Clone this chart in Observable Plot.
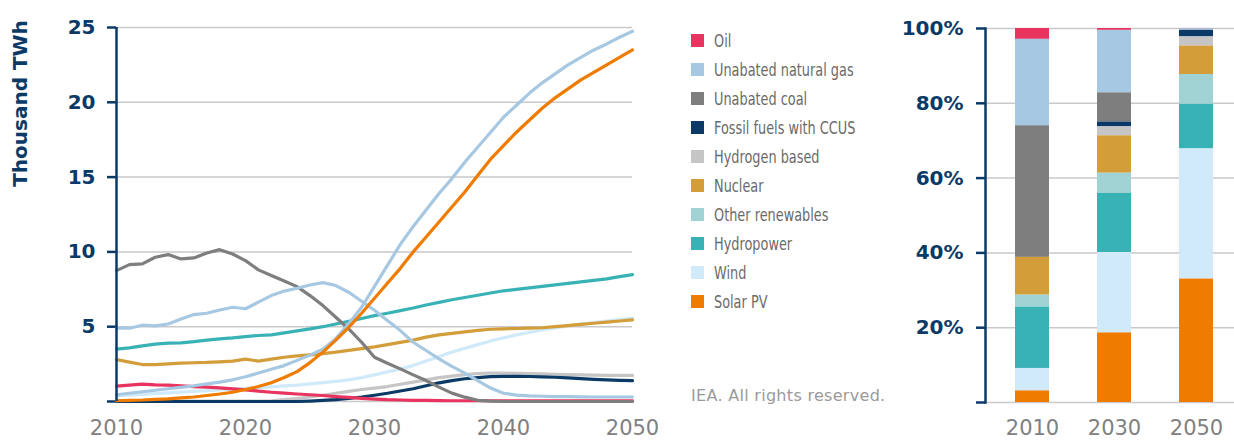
<!DOCTYPE html>
<html><head><meta charset="utf-8">
<script src="https://cdn.jsdelivr.net/npm/d3@7"></script>
<script src="https://cdn.jsdelivr.net/npm/@observablehq/plot@0.6"></script>
<style>
html,body{margin:0;padding:0;background:#fff;overflow:hidden}
#wrap{position:relative;width:1234px;height:442px}
#left{position:absolute;left:0;top:0}
#right{position:absolute;left:900px;top:0}
#legend{position:absolute;left:691px;top:25.5px;font-family:"DejaVu Sans",sans-serif;font-size:18px;color:#6a6a6a}
.item{display:flex;align-items:center;height:29.1px;white-space:nowrap}
.sw{width:13px;height:13px;margin-right:10px;flex:none}
.tx{display:inline-block;transform:scaleX(0.715);transform-origin:left center}
#credit{position:absolute;left:691px;top:387.5px;font-family:"DejaVu Sans",sans-serif;font-size:16px;line-height:16px;letter-spacing:0.3px;color:#9a9a9a;white-space:nowrap}
</style></head>
<body><div id="wrap"><div id="left"></div><div id="legend"></div><div id="credit">IEA. All rights reserved.</div><div id="right"></div></div>
<script>
// ---------- data ----------
const years = d3.range(2010, 2051);
const oil = [1.03,1.09,1.16,1.11,1.09,1.05,1.0,0.96,0.91,0.85,0.78,0.69,0.62,0.56,0.5,0.45,0.4,0.33,0.27,0.21,0.16,0.12,0.1,0.08,0.07,0.06,0.05,0.05,0.05,0.05,0.05,0.05,0.05,0.04,0.04,0.04,0.04,0.04,0.04,0.04,0.04];
const gas = [4.9,4.9,5.1,5.05,5.18,5.52,5.81,5.9,6.12,6.3,6.2,6.64,7.08,7.38,7.57,7.79,7.95,7.75,7.3,6.7,6.1,5.41,4.74,3.96,3.41,2.85,2.35,1.9,1.4,0.9,0.55,0.43,0.38,0.35,0.33,0.32,0.31,0.3,0.3,0.3,0.3];
const coal = [8.75,9.15,9.2,9.64,9.82,9.53,9.6,9.93,10.15,9.86,9.42,8.8,8.42,8.05,7.68,7.08,6.41,5.63,4.85,3.96,2.96,2.56,2.18,1.78,1.4,0.96,0.56,0.29,0.08,0.02,0,0,0,0,0,0,0,0,0,0,0];
const ccus = [0,0,0,0,0,0,0,0,0,0,0,0,0,0,0,0.03,0.07,0.12,0.2,0.3,0.42,0.55,0.7,0.85,1.05,1.25,1.4,1.52,1.6,1.66,1.68,1.68,1.67,1.65,1.62,1.58,1.53,1.48,1.44,1.41,1.39];
const hydrogen = [0.02,0.02,0.02,0.02,0.02,0.02,0.02,0.02,0.02,0.02,0.02,0.02,0.05,0.12,0.2,0.3,0.42,0.55,0.68,0.8,0.9,1.0,1.15,1.3,1.45,1.6,1.7,1.8,1.87,1.9,1.9,1.88,1.86,1.84,1.82,1.8,1.78,1.76,1.75,1.74,1.74];
const nuclear = [2.8,2.63,2.47,2.47,2.52,2.56,2.59,2.61,2.65,2.7,2.83,2.7,2.83,2.96,3.05,3.12,3.2,3.3,3.42,3.53,3.65,3.8,3.95,4.1,4.3,4.45,4.55,4.65,4.75,4.83,4.86,4.88,4.9,4.93,5.0,5.07,5.15,5.23,5.3,5.38,5.46];
const otherRenewables = [0.38,0.43,0.48,0.53,0.58,0.63,0.68,0.73,0.78,0.83,0.88,0.93,0.98,1.04,1.1,1.18,1.26,1.34,1.45,1.6,1.78,1.98,2.18,2.4,2.7,3.0,3.3,3.55,3.8,4.05,4.25,4.45,4.62,4.78,4.92,5.05,5.17,5.28,5.38,5.48,5.58];
const hydro = [3.5,3.58,3.72,3.83,3.9,3.92,4.0,4.1,4.18,4.25,4.34,4.41,4.45,4.59,4.72,4.85,5.0,5.18,5.36,5.55,5.74,5.9,6.07,6.25,6.45,6.63,6.8,6.95,7.1,7.25,7.4,7.5,7.6,7.7,7.8,7.9,8.0,8.1,8.2,8.35,8.48];
const wind = [0.45,0.55,0.65,0.75,0.85,0.95,1.05,1.18,1.3,1.45,1.65,1.9,2.15,2.4,2.75,3.1,3.5,4.2,5.2,6.3,7.7,9.1,10.5,11.7,12.8,13.9,14.9,16.0,17.0,18.0,19.0,19.8,20.6,21.3,21.9,22.5,23.0,23.5,23.9,24.35,24.75];
const solar = [0.05,0.08,0.1,0.14,0.18,0.24,0.3,0.4,0.5,0.62,0.8,1.0,1.25,1.6,2.0,2.6,3.3,4.1,4.95,5.9,6.9,7.9,8.9,10.0,11.0,12.0,13.0,14.0,15.1,16.2,17.1,18.0,18.8,19.6,20.3,20.9,21.5,22.0,22.5,23.0,23.5];

const sources = ["Oil","Unabated natural gas","Unabated coal","Fossil fuels with CCUS","Hydrogen based","Nuclear","Other renewables","Hydropower","Wind","Solar PV"];
const sourceColors = ["#e8345f","#a6c8e2","#7e7e7e","#0c3a66","#c5c5c5","#d39d3a","#a1d2d4","#39b2b6","#d1eafa","#ef7c00"];

// shares (%) by source, in the order of `sources`
const barYears = ["2010","2030","2050"];
const share2010 = [2.9,23.1,35.2,0,0,10.1,3.2,16.4,6.0,3.1];
const share2030 = [0.5,16.7,7.8,1.3,2.4,10.0,5.4,15.8,21.5,18.6];
const share2050 = [0.1,0.4,0,1.75,2.45,7.6,8.0,11.9,34.8,33.0];

const yTicksLeft = [0,5,10,15,20,25];
const xTicksLeft = [2010,2020,2030,2040,2050];
const yTicksRight = [0,20,40,60,80,100];

// ---------- styles ----------
const navy = "#0b3a67";
const gridColor = "#c9c9c9";
const tickGray = "#808080";

// line series (colours as drawn in the original line chart)
const lineSeries = [
  {values: otherRenewables, color: "#d1eafa"},
  {values: hydrogen, color: "#c5c5c5"},
  {values: ccus, color: "#0c3a66"},
  {values: oil, color: "#e8345f"},
  {values: nuclear, color: "#d39d3a"},
  {values: hydro, color: "#39b2b6"},
  {values: coal, color: "#7e7e7e"},
  {values: gas, color: "#a6c8e2"},
  {values: wind, color: "#a6c8e2"},
  {values: solar, color: "#ef7c00"}
];

const left = Plot.plot({
  width: 660, height: 442,
  marginLeft: 116, marginRight: 28, marginTop: 27, marginBottom: 41,
  style: {fontFamily: "DejaVu Sans", background: "transparent", overflow: "visible"},
  x: {domain: [2010, 2050]},
  y: {domain: [0, 25]},
  marks: [
    Plot.gridY({ticks: yTicksLeft, stroke: gridColor, strokeOpacity: 1, strokeWidth: 1.5}),
    Plot.axisY({ticks: yTicksLeft, tickSize: 9, tickPadding: 12, stroke: navy, strokeWidth: 2.5, fill: navy, fontSize: 20, fontWeight: "bold", tickFormat: d => d === 0 ? "" : String(d), label: null}),
    Plot.axisX({ticks: xTicksLeft, tickSize: 0, tickPadding: 19, fill: tickGray, fontSize: 21, tickFormat: d => String(d), label: null}),
    ...lineSeries.map(s => Plot.line(s.values, {x: (d, i) => years[i], y: d => d, stroke: s.color, strokeWidth: 3.2})),
    Plot.ruleX([2010], {stroke: navy, strokeWidth: 2.5}),
    Plot.text(["Thousand TWh"], {text: d => d, frameAnchor: "top-left", textAnchor: "middle", lineAnchor: "middle", dx: -96, dy: 76, rotate: -90, fill: navy, fontSize: 20, fontWeight: "bold"})
  ]
});
document.getElementById("left").appendChild(left);

// legend
const legend = document.getElementById("legend");
sources.forEach((s, i) => {
  const it = document.createElement("div"); it.className = "item";
  const sw = document.createElement("span"); sw.className = "sw"; sw.style.background = sourceColors[i];
  const tx = document.createElement("span"); tx.className = "tx"; tx.textContent = s;
  it.appendChild(sw); it.appendChild(tx); legend.appendChild(it);
});

// bars
const shares = [share2010, share2030, share2050];
const barData = [];
barYears.forEach((y, j) => sources.forEach((s, i) => barData.push({year: y, source: s, share: shares[j][i]})));
const stackOrder = sources.slice().reverse();

const right = Plot.plot({
  width: 334, height: 442,
  marginLeft: 85, marginRight: 0, marginTop: 28, marginBottom: 40,
  style: {fontFamily: "DejaVu Sans", background: "transparent", overflow: "visible"},
  x: {domain: barYears, paddingInner: 0.585, paddingOuter: 0.31, align: 0.59},
  y: {domain: [0, 100]},
  color: {domain: sources, range: sourceColors},
  marks: [
    Plot.gridY({ticks: yTicksRight, stroke: gridColor, strokeOpacity: 1, strokeWidth: 1.5}),
    Plot.barY(barData, {x: "year", y: "share", fill: "source", order: stackOrder}),
    Plot.axisY({ticks: yTicksRight, tickSize: 9, tickPadding: 13, stroke: navy, strokeWidth: 2.5, fill: navy, fontSize: 20, fontWeight: "bold", tickFormat: d => d === 0 ? "" : d + "%", label: null}),
    Plot.axisX({tickSize: 0, tickPadding: 18, fill: tickGray, fontSize: 21, label: null}),
    Plot.frame({anchor: "left", stroke: navy, strokeWidth: 2.5})
  ]
});
document.getElementById("right").appendChild(right);
</script>
</body></html>
